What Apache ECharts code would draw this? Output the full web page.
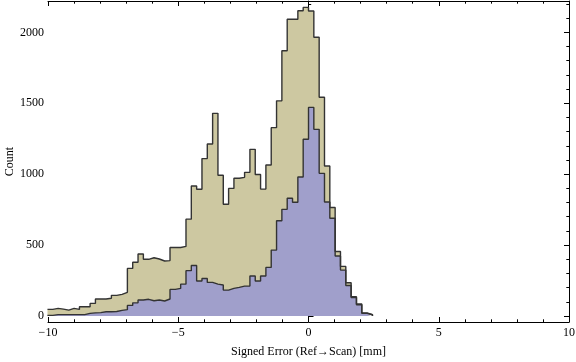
<!DOCTYPE html>
<html>
<head>
<meta charset="utf-8">
<script src="https://cdn.jsdelivr.net/npm/echarts@6/dist/echarts.min.js"></script>
<style>
html,body{margin:0;padding:0;background:#fff;}
#chart{width:576px;height:362px;}
</style>
</head>
<body>
<div id="chart"></div>
<script>
// Histogram bins (left edge of first bin and bin width, in mm)
const binStart = -10.02;
const binWidth = 0.2045;
// Counts per bin: all points (tan) and subset (blue)
const allCounts = [47,54,49,42,54,47,66,66,89,120,120,125,146,153,167,336,379,437,400,411,402,388,391,483,483,491,683,917,894,1110,1213,1429,993,788,900,971,978,1013,1175,998,895,1065,1328,1517,1870,2092,2092,2152,2176,2150,1965,1542,1058,765,455,350,235,136,85,22,10];
const subsetCounts = [5,10,10,10,10,10,10,19,22,24,30,30,32,40,45,75,93,113,118,108,113,106,120,188,195,225,320,356,247,265,237,225,219,183,195,202,211,211,282,247,282,343,465,672,752,830,802,980,1246,1471,1316,1006,804,689,423,324,215,130,80,19,9];
const xTicks = [-10,-5,0,5,10];
const yMajorTicks = [0,500,1000,1500,2000];
const yMinorTicks = [0,100,200,300,400,500,600,700,800,900,1000,1100,1200,1300,1400,1500,1600,1700,1800,1900,2000,2100,2200];

function stepData(counts){
  const d = counts.map((c,i)=>[binStart + i*binWidth, c]);
  d.push([binStart + counts.length*binWidth, 0]);
  return d;
}

const font = 'Liberation Serif';
const lineCol = '#000';
const yMin = -42, yMax = 2221;

const chart = echarts.init(document.getElementById('chart'), null, {renderer:'canvas'});
const fmtMinus = v => (v<0 ? '\u2212' + Math.abs(v) : String(v));

const baseY = (pos, showLine, ticks, len, labels) => ({
  type:'value', position:pos, min:yMin, max:yMax,
  axisLine:{show:showLine, lineStyle:{color:lineCol, width:1}},
  axisTick:{show:true, inside:true, length:len, customValues:ticks, lineStyle:{color:lineCol, width:1}},
  axisLabel: labels ? {show:true, customValues:yMajorTicks, margin:4, fontFamily:font, fontSize:12, color:'#000', formatter:v=>String(v)} : {show:false},
  splitLine:{show:false}
});

chart.setOption({
  animation:false,
  grid:{left:48, right:7, top:1, bottom:40, containLabel:false, outerBoundsMode:'none'},
  xAxis:[
    {type:'value', position:'bottom', min:-10, max:10, interval:5,
     name:'Signed Error (Ref\u2192Scan) [mm]', nameLocation:'middle', nameGap:24, nameMoveOverlap:false,
     nameTextStyle:{fontFamily:font, fontSize:12, color:'#000'},
     axisLine:{show:true, lineStyle:{color:lineCol, width:1}, onZero:false},
     axisTick:{show:true, inside:true, length:5, lineStyle:{color:lineCol}},
     minorTick:{show:true, splitNumber:5, length:2.7, lineStyle:{color:lineCol}},
     axisLabel:{margin:5, fontFamily:font, fontSize:12, color:'#000', formatter:fmtMinus, showMinLabel:true, showMaxLabel:true},
     splitLine:{show:false}, minorSplitLine:{show:false}},
    {type:'value', position:'top', min:-10, max:10, interval:5,
     axisLine:{show:true, lineStyle:{color:lineCol, width:1}, onZero:false},
     axisTick:{show:true, inside:true, length:5, lineStyle:{color:lineCol}},
     minorTick:{show:true, splitNumber:5, length:2.7, lineStyle:{color:lineCol}},
     axisLabel:{show:false}, splitLine:{show:false}}
  ],
  yAxis:[
    Object.assign(baseY('left', true, yMajorTicks, 5, true), {
      name:'Count', nameLocation:'middle', nameGap:32, nameRotate:90, nameMoveOverlap:false,
      nameTextStyle:{fontFamily:font, fontSize:12, color:'#000'}
    }),
    baseY('left', false, yMinorTicks, 2.7, false),
    baseY('right', true, yMajorTicks, 5, false),
    baseY('right', false, yMinorTicks, 2.7, false)
  ],
  series:[
    {type:'line', xAxisIndex:0, yAxisIndex:0, step:'end', data:stepData(allCounts),
     symbol:'none', clip:true,
     lineStyle:{color:'#333', width:1.4},
     areaStyle:{color:'#cdc8a1', opacity:1, origin:0}},
    {type:'line', xAxisIndex:0, yAxisIndex:0, step:'end', data:stepData(subsetCounts),
     symbol:'none', clip:true,
     lineStyle:{color:'#333', width:1.4},
     areaStyle:{color:'#a09fcb', opacity:1, origin:0}}
  ]
});
</script>
</body>
</html>
